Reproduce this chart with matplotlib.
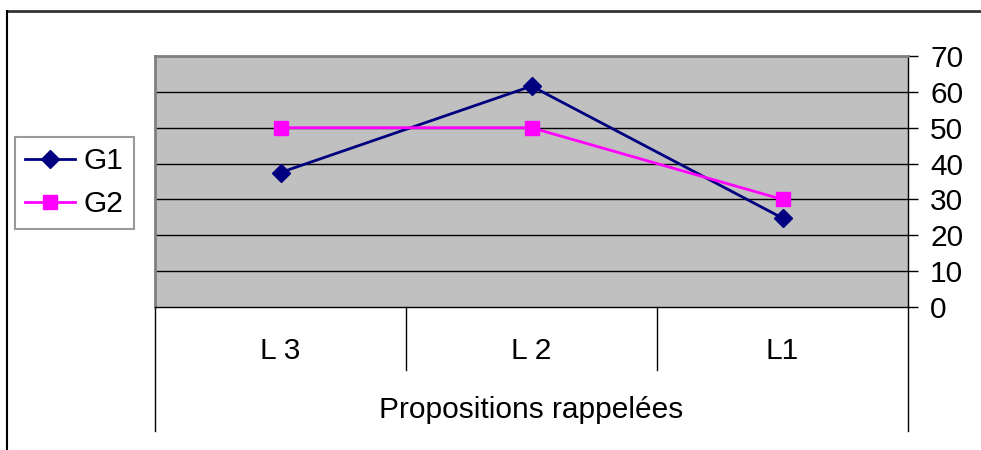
import matplotlib
matplotlib.use("Agg")
import matplotlib.pyplot as plt
from matplotlib.lines import Line2D

categories = ["L 3", "L 2", "L1"]
g1 = [37.5, 61.6, 24.8]
g2 = [50, 50, 30]
series_names = ["G1", "G2"]
yticks = [0, 10, 20, 30, 40, 50, 60, 70]
xlabel = "Propositions rappelées"

plt.rcParams['font.family'] = ['Liberation Sans', 'DejaVu Sans']

W, H = 981, 450
fig = plt.figure(figsize=(W / 100, H / 100), dpi=100)

def fx(px):
    return px / W

def fy(py):
    return 1 - py / H

FS = 21.5
L, R, T, B = 155, 908, 56, 307
ax = fig.add_axes([fx(L), fy(B), fx(R) - fx(L), fy(T) - fy(B)])
ax.set_facecolor("#C0C0C0")
x = list(range(len(categories)))
ax.set_xlim(-0.5, len(categories) - 0.5)
ax.set_ylim(0, 70)

for v in yticks[1:-1]:
    ax.axhline(v, color="black", lw=1.0, zorder=1)

ax.plot(x, g1, color="#000080", lw=2, marker="D", markersize=9.5,
        markerfacecolor="#000080", markeredgecolor="#000080", label=series_names[0], zorder=3)
ax.plot(x, g2, color="#FF00FF", lw=2, marker="s", markersize=10,
        markerfacecolor="#FF00FF", markeredgecolor="#FF00FF", label=series_names[1], zorder=3)

ax.yaxis.tick_right()
ax.set_yticks(yticks)
ax.tick_params(axis="y", direction="out", length=7, width=1, pad=9, labelsize=FS, colors="black")
ax.set_xticks([])

for s in ["left", "top"]:
    ax.spines[s].set_color("#808080")
    ax.spines[s].set_linewidth(2)
for s in ["bottom", "right"]:
    ax.spines[s].set_color("black")
    ax.spines[s].set_linewidth(1)

h = B - T
def afy(py):
    return (B - py) / h

# category dividers
for xv in [0.5, 1.5]:
    ax.plot([xv, xv], [0, afy(370)], color="black", lw=1,
            transform=ax.get_xaxis_transform(), clip_on=False)
for xv in [-0.5, len(categories) - 0.5]:
    ax.plot([xv, xv], [0, afy(431)], color="black", lw=1,
            transform=ax.get_xaxis_transform(), clip_on=False)

for xi, c in zip(x, categories):
    ax.text(xi, afy(351), c, transform=ax.get_xaxis_transform(),
            ha="center", va="center", fontsize=FS)
ax.text(1, afy(410), xlabel, transform=ax.get_xaxis_transform(),
        ha="center", va="center", fontsize=FS)

# outer border
fig.add_artist(Line2D([fx(7), fx(980)], [fy(11), fy(11)], color="#333333", lw=2))
fig.add_artist(Line2D([fx(7), fx(7)], [fy(11), fy(450)], color="black", lw=1.5))

leg = fig.legend(loc="upper left", bbox_to_anchor=(fx(15), fy(137)),
                 bbox_transform=fig.transFigure, borderaxespad=0,
                 fontsize=FS, frameon=True, fancybox=False, shadow=False,
                 handlelength=1.65, handletextpad=0.3, labelspacing=0.5,
                 borderpad=0.35)
leg.get_frame().set_edgecolor("#808080")
leg.get_frame().set_linewidth(1.5)

fig.savefig("out.png", dpi=100)
